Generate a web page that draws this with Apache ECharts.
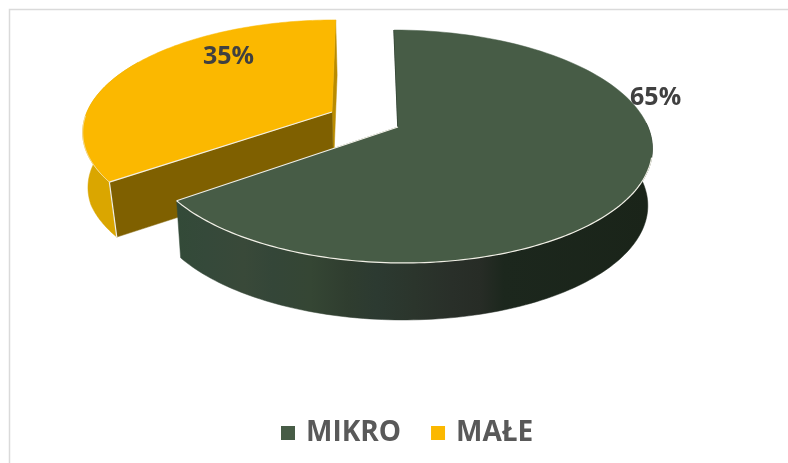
<!DOCTYPE html>
<html>
<head>
<meta charset="utf-8">
<style>html,body{margin:0;padding:0;background:#fff}#c{width:788px;height:463px}</style>
<script src="https://cdn.jsdelivr.net/npm/echarts@6/dist/echarts.min.js"></script>
</head>
<body>
<div id="c"></div>
<script>
const categories = ['MIKRO', 'MAŁE'];
const values = [65, 35];
const labels = ['65%', '35%'];
const colors = ['#475C46', '#FBB800'];

const total = values.reduce((a, b) => a + b, 0);
const K = 0.1674;
const looks = [
  { x0: 398, y0: 127, a: 250, b: 113.2, shear: 0.04, depth: 57, s: 0.982, dx: 0, lean: 0,
    labA: 76, labR: 1.115,
    wall: { type: 'linear', global: true, x: 178, y: 0, x2: 650, y2: 0, colorStops: [
      { offset: 0, color: '#334A38' }, { offset: 0.06, color: '#35493A' }, { offset: 0.14, color: '#394939' },
      { offset: 0.2, color: '#344638' }, { offset: 0.28, color: '#354634' }, { offset: 0.36, color: '#2F3D2F' },
      { offset: 0.42, color: '#2C3A31' }, { offset: 0.5, color: '#2B352C' }, { offset: 0.58, color: '#292F29' },
      { offset: 0.64, color: '#272C26' }, { offset: 0.69, color: '#1C271D' }, { offset: 1, color: '#1A2419' }] } },
  { x0: 332, y0: 112, a: 245, b: 107.5, shear: -0.04, depth: 55, s: 0.985, dx: 1.5, lean: 0.08,
    labA: 320, labR: 0.734, wall: '#DAA600', cut: '#7F6000', sliver: '#B98B00' }
];

function project(g, deg, r) {
  const t = deg * Math.PI / 180;
  const X = r * Math.sin(t), Y = r * Math.cos(t), d = 1 + K * Y;
  const y = g.y0 - g.b * Y / d;
  return [g.x0 + g.a * X / d + (y - g.y0) * g.shear, y];
}
function lower(g, p) {
  return [g.x0 + (p[0] - g.x0) * g.s + g.dx + Math.max(0, p[1] - 150) * g.lean, p[1] + g.depth];
}
function arc(g, from, to) {
  const pts = [], n = 120;
  for (let i = 0; i <= n; i++) pts.push(project(g, from + (to - from) * i / n, 1));
  return pts;
}
const poly = (points, fill) => ({
  type: 'polygon', shape: { points }, silent: true,
  style: { fill: fill, stroke: fill, lineWidth: 0.5 }
});
const line = (points, color, width) => ({
  type: 'polyline', shape: { points }, silent: true,
  style: { fill: 'none', stroke: color || '#F1EFE6', lineWidth: width || 1.2 }
});

function makeItem(idx) {
  return function (params, api) {
    const before = values.slice(0, idx).reduce((a, b) => a + b, 0);
    const from = before / total * 360;
    const to = (before + api.value(0)) / total * 360;
    const g = looks[idx];
    const rim = arc(g, from, to);
    const apex = [g.x0, g.y0];
    const ch = [];
    if (idx === 0) {
      const outer = arc(g, 88, to);
      ch.push(poly(outer.concat(outer.map(p => lower(g, p)).reverse()), g.wall));
      ch.push(line([apex, rim[0]], '#2B3A2D', 1.6));
      ch.push(poly([apex].concat(rim), colors[idx]));
      ch.push(line(arc(g, 105, to)));
      ch.push(line([apex, rim[rim.length - 1]]));
    } else {
      const tip = rim[0], end = rim[rim.length - 1];
      ch.push(poly([apex, end, lower(g, end), lower(g, apex)], g.sliver));
      const outer = arc(g, from, 300);
      ch.push(poly(outer.concat(outer.map(p => lower(g, p)).reverse()), g.wall));
      ch.push(poly([apex, tip, lower(g, tip), lower(g, apex)], g.cut));
      ch.push(poly([apex].concat(rim), colors[idx]));
      ch.push(line([apex, tip]));
      ch.push(line([tip, lower(g, tip)]));
      ch.push(line(arc(g, from, 268), '#F5E6B8', 1));
    }
    const lp = project(g, g.labA, g.labR);
    ch.push({
      type: 'text', silent: true, z2: 10,
      style: { x: lp[0], y: lp[1], text: labels[idx], fill: '#404040',
        font: 'bold 25px "Open Sans", sans-serif', align: 'center', verticalAlign: 'middle' }
    });
    return { type: 'group', children: ch };
  };
}

const chart = echarts.init(document.getElementById('c'), null, { renderer: 'canvas' });
chart.setOption({
  animation: false,
  backgroundColor: '#fff',
  graphic: [{
    type: 'rect', silent: true, z: -1,
    shape: { x: 9.5, y: 9.5, width: 900, height: 600 },
    style: { fill: 'none', stroke: '#DADADA', lineWidth: 1.5 }
  }],
  legend: {
    data: categories.map((name, i) => ({ name, itemStyle: { color: colors[i] } })),
    icon: 'rect', left: 281, top: 419, padding: 0,
    itemWidth: 14, itemHeight: 14, itemGap: 30, selectedMode: false,
    textStyle: { color: '#595959', fontSize: 28, fontWeight: 'bold', fontFamily: '"Open Sans", sans-serif', padding: [0, 0, 0, 6] }
  },
  series: categories.map((name, i) => ({
    type: 'custom', name, coordinateSystem: 'none', silent: true,
    z: i === 0 ? 3 : 2, itemStyle: { color: colors[i] },
    data: [values[i]], renderItem: makeItem(i)
  }))
});
</script>
</body>
</html>
